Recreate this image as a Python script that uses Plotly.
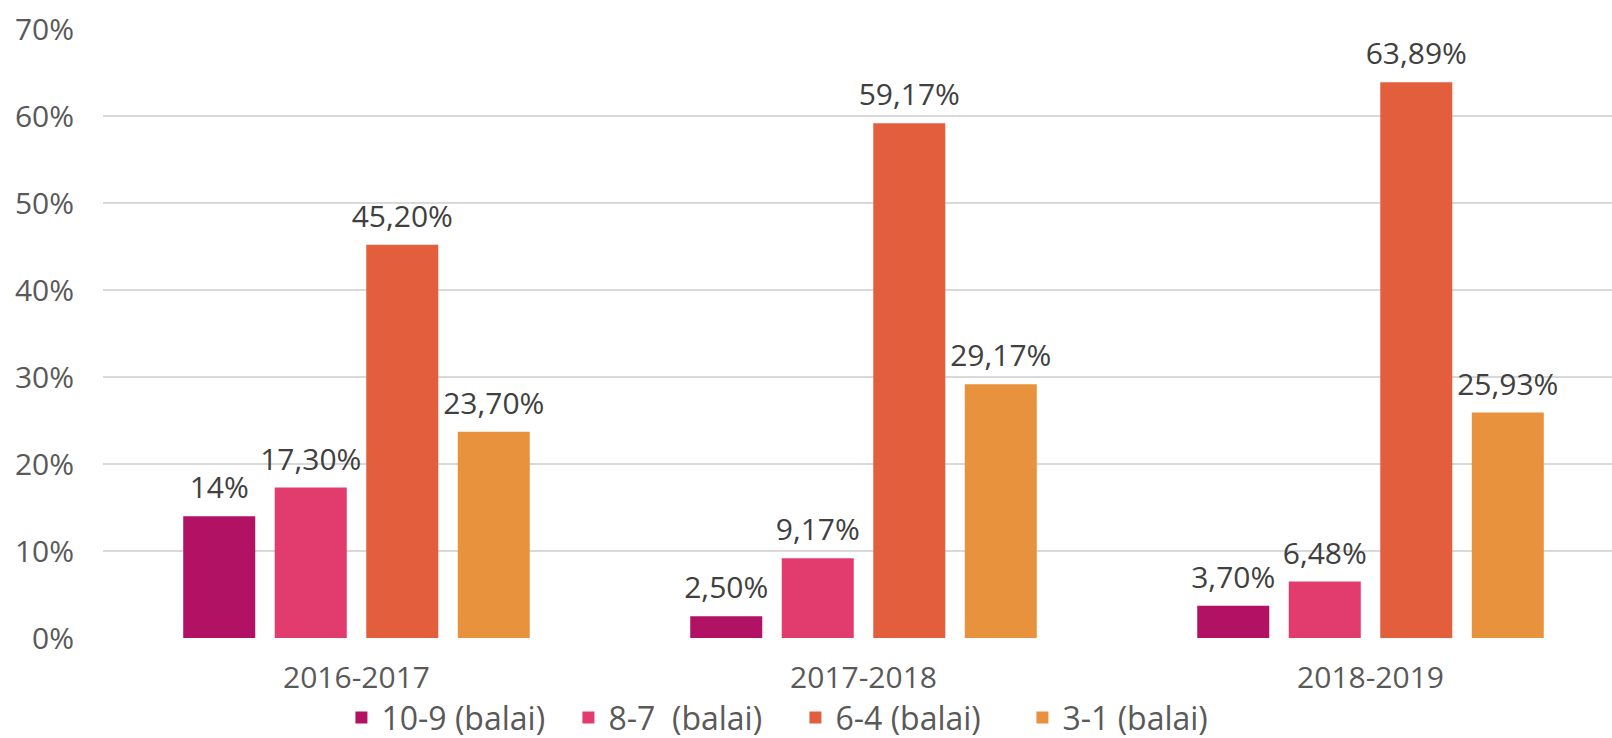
import plotly.graph_objects as go

categories = ["2016-2017", "2017-2018", "2018-2019"]
series_names = ["10-9 (balai)", "8-7\u00a0 (balai)", "6-4 (balai)", "3-1 (balai)"]
s_10_9 = [14.0, 2.50, 3.70]
s_8_7 = [17.30, 9.17, 6.48]
s_6_4 = [45.20, 59.17, 63.89]
s_3_1 = [23.70, 29.17, 25.93]
labels_10_9 = ["14%", "2,50%", "3,70%"]
labels_8_7 = ["17,30%", "9,17%", "6,48%"]
labels_6_4 = ["45,20%", "59,17%", "63,89%"]
labels_3_1 = ["23,70%", "29,17%", "25,93%"]
y_ticks = [0, 10, 20, 30, 40, 50, 60, 70]
y_tick_labels = ["0%", "10%", "20%", "30%", "40%", "50%", "60%", "70%"]

colors = ["#B11263", "#E23C6E", "#E25E3D", "#E8923D"]
series = [s_10_9, s_8_7, s_6_4, s_3_1]
labels = [labels_10_9, labels_8_7, labels_6_4, labels_3_1]

FONT = "Open Sans"
GAP = 0.278

fig = go.Figure()
for i, (name, vals, col) in enumerate(zip(series_names, series, colors)):
    fig.add_trace(go.Bar(
        x=categories, y=vals, name=name, marker_color=col,
        marker_line_width=0, offsetgroup=str(i), hoverinfo="skip",
    ))
for i, (vals, txt) in enumerate(zip(series, labels)):
    fig.add_trace(go.Scatter(
        x=categories, y=vals, text=txt, mode="markers+text",
        textposition="top center", offsetgroup=str(i),
        marker=dict(size=15, opacity=0), showlegend=False,
        textfont=dict(family=FONT, size=30, color="#404040"),
        hoverinfo="skip", cliponaxis=False,
    ))

fig.update_layout(
    width=1612, height=738, autosize=False,
    margin=dict(l=103, r=0, t=29, b=100, autoexpand=False),
    paper_bgcolor="white", plot_bgcolor="white",
    barmode="group", bargap=GAP, bargroupgap=0.213,
    scattermode="group", scattergap=GAP,
    font=dict(family=FONT, color="#595959", size=30),
    showlegend=True,
    legend=dict(orientation="h", x=0.158, xanchor="left", y=-0.131, yanchor="middle",
                font=dict(family=FONT, size=32, color="#595959"),
                itemwidth=30, entrywidth=182, traceorder="normal",
                bgcolor="rgba(0,0,0,0)"),
)
fig.update_xaxes(
    type="category", range=[-0.5, 2.4763], showgrid=False, zeroline=False,
    showline=False, ticks="outside", ticklen=13, tickcolor="rgba(0,0,0,0)",
    tickfont=dict(family=FONT, size=30, color="#595959"), automargin=False,
)
fig.update_yaxes(
    range=[0, 70], tickvals=y_ticks, ticktext=y_tick_labels, showgrid=True,
    gridcolor="#D9D9D9", gridwidth=2, zeroline=False, showline=False,
    ticks="outside", ticklen=22, tickcolor="rgba(0,0,0,0)",
    tickfont=dict(family=FONT, size=30, color="#595959"), automargin=False,
)

fig.write_html("out.html", config={"displayModeBar": False},
               post_script="document.body.style.margin='0';")
